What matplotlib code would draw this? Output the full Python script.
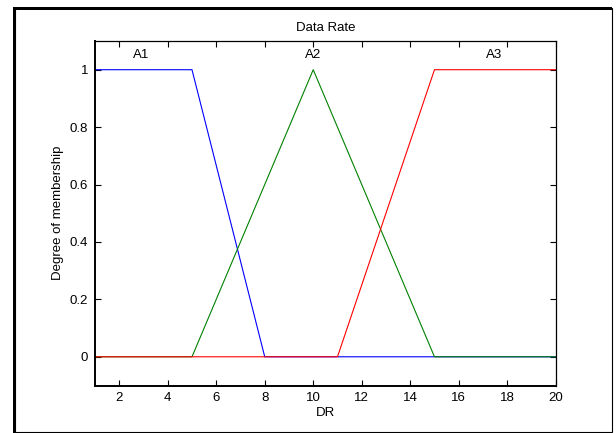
import matplotlib
matplotlib.use("Agg")
import matplotlib.pyplot as plt
from matplotlib.patches import Rectangle

plt.rcParams['font.family'] = ['Liberation Sans', 'DejaVu Sans']

# membership function breakpoints
a1_x = [1, 5, 8, 20]
a1_y = [1, 1, 0, 0]
a2_x = [1, 5, 10, 15, 20]
a2_y = [0, 0, 1, 0, 0]
a3_x = [1, 11, 15, 20]
a3_y = [0, 0, 1, 1]

labels = ["A1", "A2", "A3"]
label_x = [2.9, 10.0, 17.45]

xticks = [2, 4, 6, 8, 10, 12, 14, 16, 18, 20]
yticks = [0, 0.2, 0.4, 0.6, 0.8, 1]

fs = 9.5

fig = plt.figure(figsize=(6.16, 4.33), dpi=100)
W, H = 616, 433
ax = fig.add_axes([95 / W, 1 - 385.5 / H, (555.7 - 95) / W, (385.5 - 41) / H])

ax.plot(a1_x, a1_y, color=(0, 0, 1), lw=0.8)
ax.plot(a2_x, a2_y, color=(0, 0.5, 0), lw=0.8)
ax.plot(a3_x, a3_y, color=(1, 0, 0), lw=0.8)

for lab, lx in zip(labels, label_x):
    ax.text(lx, 1.05, lab, ha="center", va="center", fontsize=fs)

ax.set_xlim(1, 20)
ax.set_ylim(-0.1, 1.1)
ax.set_xticks(xticks)
ax.set_yticks(yticks)
ax.set_yticklabels(["0", "0.2", "0.4", "0.6", "0.8", "1"])
ax.tick_params(direction="in", top=True, right=True, labelsize=fs, length=4, width=0.8, pad=5)

ax.spines["left"].set_linewidth(1.4)
ax.spines["bottom"].set_linewidth(1.4)
ax.spines["top"].set_linewidth(0.9)
ax.spines["right"].set_linewidth(0.9)

ax.set_title("Data Rate", fontsize=fs, pad=7)
ax.set_xlabel("DR", fontsize=fs, labelpad=2)
ax.set_ylabel("Degree of membership", fontsize=fs, labelpad=4)

# outer frame of the figure
fig.patches.append(Rectangle((14.5 / W, 1.5 / H), (612 - 14.5) / W, (425 - 1.5) / H,
                             transform=fig.transFigure, fill=False, edgecolor="black", lw=0.8))
fig.patches.append(Rectangle((13 / W, 0), 3 / W, 1 - 7 / H, transform=fig.transFigure,
                             facecolor="black", edgecolor="none"))
fig.patches.append(Rectangle((13 / W, 1 - 10 / H), (612 - 13) / W, 3 / H, transform=fig.transFigure,
                             facecolor="black", edgecolor="none"))

fig.savefig("out.png", dpi=100)
